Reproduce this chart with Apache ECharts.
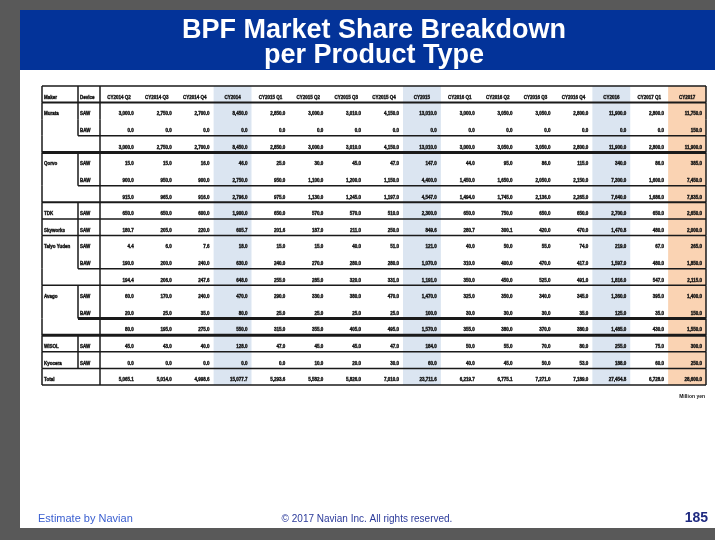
<!DOCTYPE html>
<html>
<head>
<meta charset="utf-8">
<title>BPF Market Share Breakdown per Product Type</title>
<script src="https://cdn.jsdelivr.net/npm/echarts@6/dist/echarts.min.js"></script>
<style>
  html, body { margin: 0; padding: 0; background: #595959; }
  #chart { width: 715px; height: 540px; }
</style>
</head>
<body>
<div id="chart"></div>
<script>
// column headers (quarters + yearly totals)
const periods = ['CY2014 Q2', 'CY2014 Q3', 'CY2014 Q4', 'CY2014',
  'CY2015 Q1', 'CY2015 Q2', 'CY2015 Q3', 'CY2015 Q4', 'CY2015',
  'CY2016 Q1', 'CY2016 Q2', 'CY2016 Q3', 'CY2016 Q4', 'CY2016',
  'CY2017 Q1', 'CY2017']

// left label columns, one entry per table row (row 0 = header)
const makers = ['Maker', 'Murata', '', '', 'Qorvo', '', '', 'TDK', 'Skyworks',
  'Taiyo Yuden', '', '', 'Avago', '', '', 'WISOL', 'Kyocera', 'Total']
const types = ['Device', 'SAW', 'BAW', '', 'SAW', 'BAW', '', 'SAW', 'SAW',
  'SAW', 'BAW', '', 'SAW', 'BAW', '', 'SAW', 'SAW', '']

// values (million yen)
const murataSaw = [3000, 2750, 2700, 8450, 2850, 3000, 3010, 4150, 13010, 3000, 3050, 3050, 2800, 11900, 2800, 11750]
const murataBaw = [0, 0, 0, 0, 0, 0, 0, 0, 0, 0, 0, 0, 0, 0, 0, 150]
const murataSum = [3000, 2750, 2700, 8450, 2850, 3000, 3010, 4150, 13010, 3000, 3050, 3050, 2800, 11900, 2800, 11900]
const qorvoSaw = [15, 15, 16, 46, 25, 30, 45, 47, 147, 44, 95, 86, 115, 340, 86, 385]
const qorvoBaw = [900, 950, 900, 2750, 950, 1100, 1200, 1150, 4400, 1450, 1650, 2050, 2150, 7300, 1600, 7450]
const qorvoSum = [915, 965, 916, 2796, 975, 1130, 1245, 1197, 4547, 1494, 1745, 2136, 2265, 7640, 1686, 7835]
const tdkSaw = [650, 650, 600, 1900, 650, 570, 570, 510, 2300, 650, 750, 650, 650, 2700, 650, 2650]
const skyworksSaw = [180.7, 205, 220, 605.7, 201.6, 187, 211, 250, 849.6, 280.7, 300.1, 420, 470, 1470.8, 480, 2000]
const taiyoSaw = [4.4, 6, 7.6, 18, 15, 15, 40, 51, 121, 40, 50, 55, 74, 219, 67, 265]
const taiyoBaw = [190, 200, 240, 630, 240, 270, 280, 280, 1070, 310, 400, 470, 417, 1597, 480, 1850]
const taiyoSum = [194.4, 206, 247.6, 648, 255, 285, 320, 331, 1191, 350, 450, 525, 491, 1816, 547, 2115]
const avagoSaw = [60, 170, 240, 470, 290, 330, 380, 470, 1470, 325, 350, 340, 345, 1360, 395, 1400]
const avagoBaw = [20, 25, 35, 80, 25, 25, 25, 25, 100, 30, 30, 30, 35, 125, 35, 150]
const avagoSum = [80, 195, 275, 550, 315, 355, 405, 495, 1570, 355, 380, 370, 380, 1485, 430, 1550]
const wisolSaw = [45, 43, 40, 128, 47, 45, 45, 47, 184, 50, 55, 70, 80, 255, 75, 300]
const kyoceraSaw = [0, 0, 0, 0, 0, 10, 20, 30, 60, 40, 45, 50, 53, 188, 60, 250]
const totalAll = [5065.1, 5014, 4998.6, 15077.7, 5293.6, 5582, 5826, 7010, 23711.6, 6219.7, 6775.1, 7271, 7189, 27454.8, 6728, 28600]

const tableRows = [periods, murataSaw, murataBaw, murataSum, qorvoSaw, qorvoBaw, qorvoSum,
  tdkSaw, skyworksSaw, taiyoSaw, taiyoBaw, taiyoSum, avagoSaw, avagoBaw, avagoSum,
  wisolSaw, kyoceraSaw, totalAll]

// 表格样式
const LINE = '#1a1a1a'
const TXT = '#141414'
const CELL_FONT = 'bold 4.5px "Liberation Sans", Arial, sans-serif'
const BLUE = '#dbe5f1'
const ORANGE = '#fad3b3'
const shadeCols = [3, 8, 13, 15]
// bottom rule of each row: 'all' = full width, 'type' = from type column, null = none
const rowRule = [
  ['all', 2], null, ['type', 1.5], ['all', 3], null, ['type', 1.5], ['all', 2],
  ['all', 1.5], ['all', 1.5], null, ['type', 1.5], ['all', 1.5], null, ['type', 3],
  ['all', 3], ['all', 1.5], ['all', 1.5], ['all', 1.5]
]

const fmt = v => v.toLocaleString('en-US', { minimumFractionDigits: 1, maximumFractionDigits: 1 })

const line = (x1, y1, x2, y2, w) => ({
  type: 'line',
  shape: { x1, y1, x2, y2 },
  style: { stroke: LINE, lineWidth: w }
})

const cellText = (text, x, y, align) => ({
  type: 'text',
  style: {
    text, x, y, align,
    verticalAlign: 'bottom',
    font: CELL_FONT,
    fill: TXT,
    stroke: TXT,
    lineWidth: 0.35
  }
})

// 列底色
const renderShade = (params, api) => {
  const c = api.value(0)
  const size = api.size([1, 1])
  const p = api.coord([c, 0])
  return {
    type: 'rect',
    shape: { x: p[0] - size[0] / 2, y: p[1] - size[1] / 2, width: size[0], height: size[1] * tableRows.length },
    style: { fill: c === 15 ? ORANGE : BLUE }
  }
}

// 每一行：文字 + 边框
const renderRow = (params, api) => {
  const r = api.value(1)
  const size = api.size([1, 1])
  const cw = size[0]
  const rh = size[1]
  const first = api.coord([0, r])
  const left = first[0] - cw / 2
  const right = left + cw * periods.length
  const top = first[1] - rh / 2
  const bottom = top + rh
  const border = left - 58
  const typeX = left - 22
  const ty = bottom - 2.5
  const children = []

  tableRows[r].forEach((v, c) => {
    const p = api.coord([c, r])
    if (r === 0) children.push(cellText(v, p[0], ty, 'center'))
    else children.push(cellText(fmt(v), p[0] + cw / 2 - 4, ty, 'right'))
  })
  if (makers[r]) children.push(cellText(makers[r], border + 2, ty, 'left'))
  if (types[r]) {
    children.push(cellText(types[r], typeX + 2, ty, 'left'))
    children.push(line(typeX, top, typeX, bottom, 1.5))
  }
  children.push(line(border, top, border, bottom, 1.5))
  children.push(line(left, top, left, bottom, 1.5))
  children.push(line(right, top, right, bottom, 1.5))
  if (r === 0) children.push(line(border, top, right, top, 1.5))
  const rule = rowRule[r]
  if (rule) {
    children.push(line(rule[0] === 'all' ? border : typeX, bottom, right, bottom, rule[1]))
  }
  return { type: 'group', children }
}

const chartInstance = echarts.init(document.getElementById('chart'))

const option = {
  backgroundColor: '#595959',
  animation: false,
  graphic: [
    { type: 'rect', shape: { x: 20, y: 10, width: 695, height: 518 }, style: { fill: '#ffffff' }, z: -10 },
    { type: 'rect', shape: { x: 20, y: 10, width: 695, height: 60 }, style: { fill: '#033399' }, z: -9 },
    { type: 'text', style: { text: 'BPF Market Share Breakdown', x: 374, y: 31, align: 'center', verticalAlign: 'middle', font: 'bold 27px "Liberation Sans", Arial, sans-serif', fill: '#ffffff' } },
    { type: 'text', style: { text: 'per Product Type', x: 374, y: 56, align: 'center', verticalAlign: 'middle', font: 'bold 27px "Liberation Sans", Arial, sans-serif', fill: '#ffffff' } },
    { type: 'text', style: { text: 'Million yen', x: 705, y: 397, align: 'right', verticalAlign: 'middle', font: 'bold 5px "Liberation Sans", Arial, sans-serif', fill: TXT } },
    { type: 'text', style: { text: 'Estimate by Navian', x: 38, y: 519, align: 'left', verticalAlign: 'middle', font: '11px "Liberation Sans", Arial, sans-serif', fill: '#3a5fd0' } },
    { type: 'text', style: { text: '© 2017 Navian Inc. All rights reserved.', x: 367, y: 519, align: 'center', verticalAlign: 'middle', font: '10px "Liberation Sans", Arial, sans-serif', fill: '#2b3a9a' } },
    { type: 'text', style: { text: '185', x: 708, y: 518, align: 'right', verticalAlign: 'middle', font: 'bold 14px "Liberation Sans", Arial, sans-serif', fill: '#1f2a80' } }
  ],
  grid: { left: 100, right: 9, top: 86, bottom: 155 },
  xAxis: { type: 'category', data: periods, show: false },
  yAxis: { type: 'category', data: makers.map((m, i) => String(i)), inverse: true, show: false },
  series: [
    {
      type: 'custom',
      name: 'shade',
      renderItem: renderShade,
      data: shadeCols.map(c => [c, 0]),
      z: 1
    },
    {
      type: 'custom',
      name: 'table',
      renderItem: renderRow,
      data: tableRows.map((row, i) => [0, i]),
      z: 2
    }
  ]
}

chartInstance.setOption(option)
window.addEventListener('resize', () => chartInstance.resize())
</script>
</body>
</html>
